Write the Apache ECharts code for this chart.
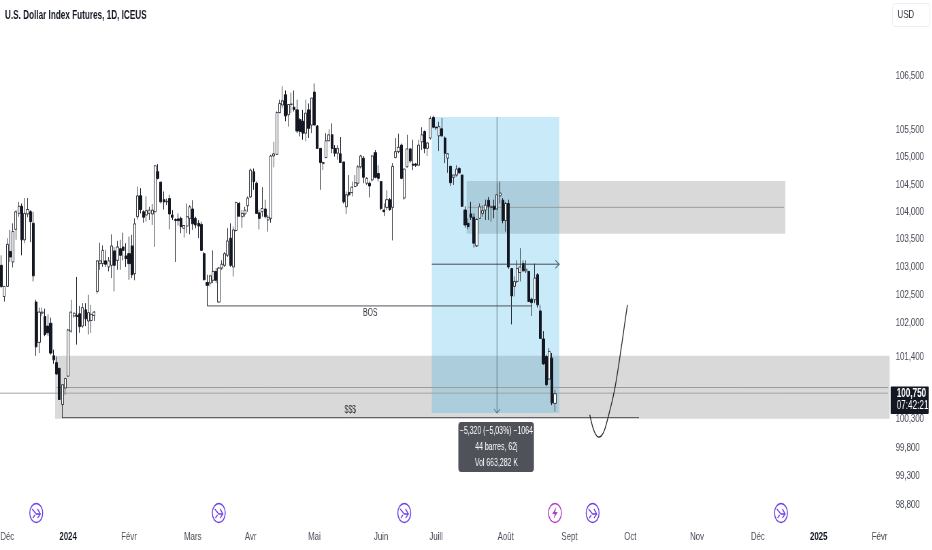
<!DOCTYPE html>
<html><head><meta charset="utf-8">
<style>html,body{margin:0;padding:0;background:#fff;width:932px;height:550px;overflow:hidden}#c{width:1370.6px;height:550px;transform:scaleX(0.68);transform-origin:0 0}</style>
<script src="https://cdn.jsdelivr.net/npm/echarts@6/dist/echarts.min.js"></script></head>
<body><div id="c"></div>
<script>
// [open, close, low, high]
const candles = [
[103.03,102.65,102.62,103.21],[102.47,102.65,102.38,102.65],[102.65,103.41,102.65,103.52],[103.28,103.18,103.09,103.67],
[103.09,103.64,102.99,103.79],[103.68,104.00,103.49,104.03],[103.97,104.10,103.91,104.18],[104.10,103.49,103.21,104.15],
[103.49,103.97,103.43,104.25],[103.96,104.04,103.90,104.25],[104.00,103.82,103.45,104.03],[103.79,102.84,102.74,104.00],
[102.37,101.57,101.41,102.41],[101.65,102.19,101.46,102.27],[102.17,102.19,102.12,102.27],[102.11,101.79,101.76,102.25],
[101.94,101.82,101.76,102.15],[101.99,101.46,101.43,102.09],[101.41,101.34,101.27,101.52],[101.29,101.09,101.07,101.40],
[101.19,100.64,100.63,101.19],[100.55,100.90,100.31,100.90],[100.84,101.01,100.72,101.01],[101.05,101.87,101.05,101.89],
[101.85,102.19,101.82,102.41],[102.12,102.17,102.09,102.18],[102.13,102.11,101.61,102.82],[102.16,101.93,101.82,102.30],
[101.94,102.27,101.91,102.35],[102.23,102.07,101.94,102.35],[102.03,102.18,101.79,102.50],[102.04,102.15,101.82,102.32],
[102.13,102.19,102.03,102.21],[102.56,103.11,102.52,103.12],[103.06,103.11,102.95,103.44],[103.06,103.30,103.00,103.39],
[103.11,103.05,103.00,103.31],[103.00,103.11,102.92,103.18],[103.03,103.38,102.80,103.59],[103.29,103.03,102.56,103.36],
[103.12,103.36,102.95,103.47],[103.33,103.21,102.95,103.49],[103.36,103.30,103.12,103.62],[103.20,103.15,103.00,103.43],
[103.24,103.06,102.77,103.55],[103.38,102.86,102.80,103.58],[102.88,103.78,102.76,103.88],[103.91,104.29,103.86,104.46],
[104.29,104.04,103.97,104.43],[104.00,103.90,103.80,104.03],[103.94,104.02,103.82,104.28],[103.97,104.03,103.85,104.09],
[103.96,104.03,103.76,104.14],[104.00,104.84,103.36,104.85],[104.73,104.61,104.59,104.87],[104.54,104.18,104.15,104.55],
[104.22,104.18,104.04,104.37],[104.18,104.19,104.12,104.24],[104.24,103.96,103.68,104.31],[103.94,103.90,103.85,104.03],
[103.86,103.84,103.09,103.88],[103.87,103.84,103.75,103.97],[103.88,103.73,103.61,103.91],[103.70,103.75,103.53,103.76],
[103.74,103.91,103.61,104.15],[103.88,104.09,103.59,104.12],[104.05,103.78,103.67,104.21],[103.88,103.76,103.70,103.91],
[103.79,103.74,103.52,103.85],[103.77,103.30,103.30,103.82],[103.24,102.77,102.76,103.27],[102.72,102.67,102.30,102.86],
[102.71,102.84,102.65,102.86],[102.76,102.92,102.71,103.30],[102.92,102.76,102.71,102.98],[102.37,102.98,102.36,103.00],
[102.98,103.05,102.95,103.12],[103.03,103.24,103.00,103.27],[103.21,103.47,103.18,103.70],[103.52,103.03,103.00,103.79],
[103.00,103.67,102.83,103.73],[103.66,104.17,103.64,104.18],[104.15,103.92,103.91,104.18],[103.91,103.97,103.71,104.03],
[103.96,104.03,103.91,104.09],[104.11,104.25,104.00,104.28],[104.27,104.76,104.25,104.79],[104.73,104.55,104.40,104.79],
[104.52,103.97,103.97,104.55],[103.98,103.88,103.68,104.04],[104.00,104.06,103.91,104.45],[104.05,103.91,103.88,104.22],
[103.85,103.90,103.64,103.94],[103.88,105.02,103.80,105.04],[105.02,105.06,104.81,105.28],[105.05,105.82,105.04,105.84],
[105.82,105.99,105.81,106.06],[105.96,106.04,105.90,106.31],[106.15,105.76,105.66,106.23],[105.78,105.97,105.56,105.97],
[105.97,105.98,105.81,106.19],[105.92,105.88,105.84,106.23],[105.87,105.48,105.44,106.06],[105.69,105.47,105.38,105.72],
[105.66,105.44,105.32,105.87],[105.44,105.81,105.29,106.06],[105.87,105.53,105.35,105.99],[105.59,106.09,105.44,106.09],
[106.20,105.59,105.59,106.36],[105.57,105.16,105.15,105.59],[105.16,104.90,104.40,105.16],[104.88,104.90,104.76,104.92],
[104.99,105.30,104.98,105.44],[105.30,105.41,105.29,105.51],[105.41,105.16,105.07,105.62],[105.16,105.07,105.01,105.22],
[105.07,105.16,104.95,105.22],[105.06,104.90,104.89,105.37],[104.91,104.18,104.15,104.91],[104.09,104.31,103.96,104.37],
[104.35,104.31,104.28,104.67],[104.35,104.45,104.28,104.55],[104.46,104.53,104.45,104.67],[104.52,104.82,104.47,104.85],
[104.82,105.02,104.79,105.04],[104.98,104.63,104.52,105.02],[104.52,104.61,104.49,104.63],[104.52,104.47,104.26,104.55],
[104.58,105.02,104.55,105.04],[105.08,104.63,104.61,105.13],[104.70,104.61,104.55,104.85],[104.55,104.06,104.03,104.55],
[104.03,104.00,103.92,104.15],[104.08,104.22,104.03,104.39],[104.22,104.04,104.02,104.25],[104.08,104.83,103.48,104.89],
[104.99,105.10,104.98,105.35],[105.10,105.18,105.07,105.43],[105.22,104.61,104.59,105.25],[104.25,104.78,104.22,104.79],
[104.82,105.15,104.81,105.41],[105.15,104.93,104.89,105.16],[104.87,104.85,104.76,105.32],[104.87,104.85,104.82,104.89],
[104.85,105.22,104.85,105.32],[105.28,105.41,105.13,105.55],[105.47,105.16,105.07,105.49],[105.16,105.26,105.02,105.28],
[105.35,105.71,105.32,105.75],[105.73,105.55,105.53,105.76],[105.55,105.54,105.50,105.56],[105.39,105.56,105.11,105.65],
[105.52,105.39,105.37,105.72],[105.35,105.07,104.89,105.38],[104.98,105.06,104.71,105.07],[104.83,104.53,104.47,104.84],
[104.63,104.67,104.49,104.67],[104.67,104.78,104.64,104.85],[104.79,104.71,104.70,104.82],[104.67,104.10,104.09,104.67],
[104.03,103.76,103.71,104.10],[103.79,103.73,103.68,103.88],[103.96,103.90,103.85,104.18],[103.90,103.43,103.35,103.97],
[103.38,103.86,103.36,103.88],[103.88,104.09,103.88,104.15],[103.97,104.02,103.91,104.12],[104.03,104.12,103.85,104.22],
[104.21,104.10,103.85,104.27],[104.08,104.09,103.82,104.12],[104.10,104.04,103.88,104.22],[104.05,104.31,104.03,104.52],
[104.29,104.34,104.15,104.55],[104.21,103.84,103.79,104.25],[103.84,104.15,103.64,104.18],[104.15,103.00,102.97,104.22],
[102.97,102.48,101.97,102.97],[102.65,102.74,102.47,102.83],[102.74,102.97,102.71,103.12],[102.90,103.00,102.74,103.34],
[103.06,102.93,102.92,103.12],[102.93,102.96,102.89,103.12],[102.92,102.38,102.38,102.92],[102.42,102.36,102.12,102.45],
[102.41,102.80,102.35,103.06],[102.86,102.32,102.27,102.89],[102.21,101.72,101.71,102.32],[101.71,101.27,101.25,101.85],
[101.40,100.90,100.87,101.43],[101.00,101.49,100.98,101.55],[101.37,100.58,100.54,101.46],[100.57,100.74,100.43,100.81]
];
const barSlots = 307;
const monthTicks = {2:'Déc',23:'2024',44:'Févr',66:'Mars',86:'Avr',108:'Mai',131:'Juin',150:'Juill',174:'Août',196:'Sept',217:'Oct',240:'Nov',261:'Déc',282:'2025',303:'Févr'};
const priceTicks = [106.5,105.5,105,104.5,104,103.5,103,102.5,102,101.4,100.3,99.8,99.3,98.8];
// annotations: [first bar, last bar, top price, bottom price]
const greyZones = [[19,306,101.41,100.30],[161,270,104.56,103.60]];
const measureBox = [[149,192,105.74,100.40]];
// [first bar, last bar, price, label]
const levelLines = [[71,183,102.30,'BOS'],[21,220,100.32,'$$$']];
const zoneMidlines = [[19,306,100.85],[161,270,104.08]];
const lastPrice = 100.75;
const arrowBar = 171, arrowTop = 105.74, arrowBottom = 100.40, arrowMidPrice = 103.05;
const curveBars = [203,204,205,206,207,208,209,210,211,212,213,214,215,216];
const curvePrices = [100.37,100.16,100.03,99.98,100.00,100.09,100.26,100.46,100.67,100.93,101.25,101.60,101.96,102.32];
const eventBars = [[12,'e'],[75,'e'],[139,'e'],[191,'f'],[204,'e'],[269,'e']];
const eventPrice = 98.66;
const tooltipLines = ['−5,320 (−5,03%) −1064','44 barres, 62j','Vol 663,282 K'];

const K = 0.68;
const px = x => x / K;
const FONT = '"Liberation Sans",sans-serif';
const INK = '#131722';
const cats = Array.from({length:barSlots},(_,i)=>monthTicks[i]||('b'+i));
const fmt = v => v.toFixed(3).replace('.',',');

const chart = echarts.init(document.getElementById('c'),null,{renderer:'canvas',width:1370.6,height:550});

function edgeRect(api,l,r,t,b){
  const band = api.size([1,0])[0];
  const a = api.coord([l,t]), c = api.coord([r,b]);
  return {x:a[0]-band/2,y:a[1],width:c[0]-a[0]+band,height:c[1]-a[1]};
}
const rectSeries = (name,data,fill,z)=>({
  name,type:'custom',data,z,silent:true,clip:false,encode:{x:0,y:2},
  renderItem:(p,api)=>({type:'rect',shape:edgeRect(api,api.value(0),api.value(1),api.value(2),api.value(3)),style:{fill}})
});

chart.setOption({
  animation:false,
  title:{text:'U.S. Dollar Index Futures, 1D, ICEUS',left:px(5),top:10,padding:0,textStyle:{fontFamily:FONT,fontSize:12,fontWeight:'bold',color:INK}},
  grid:{left:0,right:px(43),top:40,bottom:26,containLabel:false,outerBoundsMode:'none'},
  xAxis:{type:'category',data:cats,boundaryGap:true,axisLine:{show:false},axisTick:{show:false},splitLine:{show:false},
    axisLabel:{show:true,interval:(i)=>monthTicks[i]!==undefined,formatter:(v)=>(v==='2024'||v==='2025')?'{b|'+v+'}':v,margin:7,fontFamily:FONT,fontSize:11.5,color:'#4a4d57',hideOverlap:false,
      rich:{b:{fontFamily:FONT,fontSize:11.5,fontWeight:'bold',color:INK}}}},
  yAxis:{type:'log',logBase:10,min:98.47,max:107.173,position:'right',scale:true,axisLine:{show:false},axisTick:{show:false},splitLine:{show:false},minorTick:{show:false},
    axisLabel:{customValues:priceTicks,formatter:fmt,margin:px(6),fontFamily:FONT,fontSize:11.5,color:'#4a4d57',showMinLabel:true,showMaxLabel:true}},
  series:[
    rectSeries('zones',greyZones,'#d9d9d9',1),
    rectSeries('measure',measureBox,'rgba(41,171,226,0.25)',2),
    {name:'mids',type:'custom',data:zoneMidlines,z:2,silent:true,encode:{x:0,y:2},
      renderItem:(p,api)=>{const a=api.coord([api.value(0),api.value(2)]),b=api.coord([api.value(1),api.value(2)]);
        return {type:'line',shape:{x1:a[0],y1:a[1],x2:b[0],y2:b[1]},style:{stroke:'#9a9ca0',lineWidth:1}};}},
    {name:'last',type:'custom',data:[[0,barSlots-1,lastPrice]],z:2,silent:true,encode:{x:0,y:2},
      renderItem:(p,api)=>{const a=api.coord([api.value(0),api.value(2)]),b=api.coord([api.value(1),api.value(2)]);
        return {type:'line',shape:{x1:0,y1:a[1],x2:b[0],y2:b[1]},style:{stroke:'#a3a3a3',lineWidth:1}};}},
    {name:'USDX',type:'candlestick',data:candles,barWidth:3.6,z:3,silent:true,
      itemStyle:{color:'#ffffff',color0:INK,borderColor:'#33363c',borderColor0:INK,borderWidth:1}},
    {name:'levels',type:'custom',data:levelLines,z:4,silent:true,encode:{x:0,y:2},
      renderItem:(p,api)=>{const a=api.coord([api.value(0),api.value(2)]),b=api.coord([api.value(1),api.value(2)]);
        const lab=levelLines[p.dataIndex][3];
        const mx=lab==='BOS'?px(370):px(350);
        return {type:'group',children:[
          {type:'line',shape:{x1:a[0],y1:a[1],x2:b[0],y2:b[1]},style:{stroke:'#50535a',lineWidth:1}},
          {type:'text',style:{text:lab,x:mx,y:lab==='BOS'?a[1]+7:a[1]-7,align:'center',verticalAlign:'middle',font:'10px '+FONT,fill:'#33363d'}}
        ]};}},
    {name:'arrows',type:'custom',data:[[arrowBar,arrowTop,arrowBottom,arrowMidPrice]],z:5,silent:true,encode:{x:0,y:1},
      renderItem:(p,api)=>{const t=api.coord([api.value(0),api.value(1)]),b=api.coord([api.value(0),api.value(2)]);
        const l=api.coord([measureBox[0][0],api.value(3)]),r=api.coord([measureBox[0][1],api.value(3)]);
        const bd=api.size([1,0])[0]/2; const s1={stroke:'rgba(60,90,105,0.7)',lineWidth:1.1,fill:null}, s2={stroke:'rgba(40,50,60,0.85)',lineWidth:1,fill:null};
        return {type:'group',children:[
          {type:'line',shape:{x1:t[0],y1:t[1],x2:b[0],y2:b[1]},style:s1},
          {type:'polyline',shape:{points:[[t[0]-px(3),b[1]-4],[t[0],b[1]],[t[0]+px(3),b[1]-4]]},style:s1},
          {type:'line',shape:{x1:l[0]-bd,y1:l[1],x2:r[0]+bd,y2:r[1]},style:s2},
          {type:'polyline',shape:{points:[[r[0]+bd-px(4),r[1]-4],[r[0]+bd,r[1]],[r[0]+bd-px(4),r[1]+4]]},style:{stroke:'rgba(60,90,105,0.8)',lineWidth:1.2,fill:null}}
        ]};}},
    {name:'curve',type:'line',data:curveBars.map((b,i)=>[b,curvePrices[i]]),smooth:0.4,symbol:'none',z:5,silent:true,lineStyle:{color:'#24272d',width:1.3}},
    {name:'events',type:'custom',data:eventBars.map(e=>[e[0],eventPrice]),z:6,silent:true,encode:{x:0,y:1},clip:false,
      renderItem:(p,api)=>{const c=api.coord([api.value(0),api.value(1)]);const f=eventBars[p.dataIndex][1]==='f';
        const col=f?'#b03ac8':'#6a3be4';const x=c[0],y=c[1];
        const kids=[{type:'circle',shape:{cx:x,cy:y,r:9.5},style:{fill:'#fff',stroke:col,lineWidth:1.4}}];
        if(f){kids.push({type:'polygon',shape:{points:[[x+2,y-6],[x-4,y+1],[x-0.4,y+1],[x-2,y+6],[x+4,y-1],[x+0.4,y-1]]},style:{fill:col}});}
        else{kids.push({type:'polyline',shape:{points:[[x-6,y-4],[x,y+1],[x+6,y+1]]},style:{stroke:col,lineWidth:1.3,fill:null}});
          kids.push({type:'polyline',shape:{points:[[x+2,y-4],[x+6,y+1],[x+2,y+5]]},style:{stroke:col,lineWidth:1.3,fill:null}});
          kids.push({type:'line',shape:{x1:x-5,y1:y+5,x2:x-2,y2:y+2},style:{stroke:col,lineWidth:1.3}});}
        return {type:'group',children:kids};}}
  ],
  graphic:[
    {type:'rect',x:px(892),y:3.5,z:20,shape:{width:px(37),height:23,r:3},style:{fill:'#fff',stroke:'#eceef1',lineWidth:1}},
    {type:'text',x:px(897),y:15,z:21,style:{text:'USD',font:'11.5px '+FONT,fill:'#33363d',verticalAlign:'middle'}},
    {type:'rect',x:px(458),y:422,z:20,shape:{width:px(75.5),height:50,r:4},style:{fill:'#4f5259'}},
    ...tooltipLines.map((t,i)=>({type:'text',z:21,x:px(496),y:431+i*16,style:{text:t,font:'10.2px '+FONT,fill:'#ffffff',align:'center',verticalAlign:'middle'}})),
    {type:'rect',x:px(890),y:386.5,z:20,shape:{width:px(38),height:27.5,r:1},style:{fill:INK}},
    {type:'text',x:px(896),y:394,z:21,style:{text:fmt(lastPrice),font:'bold 12px '+FONT,fill:'#ffffff',verticalAlign:'middle'}},
    {type:'text',x:px(896),y:406,z:21,style:{text:'07:42:21',font:'12px '+FONT,fill:'#ffffff',verticalAlign:'middle'}}
  ]
});
</script></body></html>
